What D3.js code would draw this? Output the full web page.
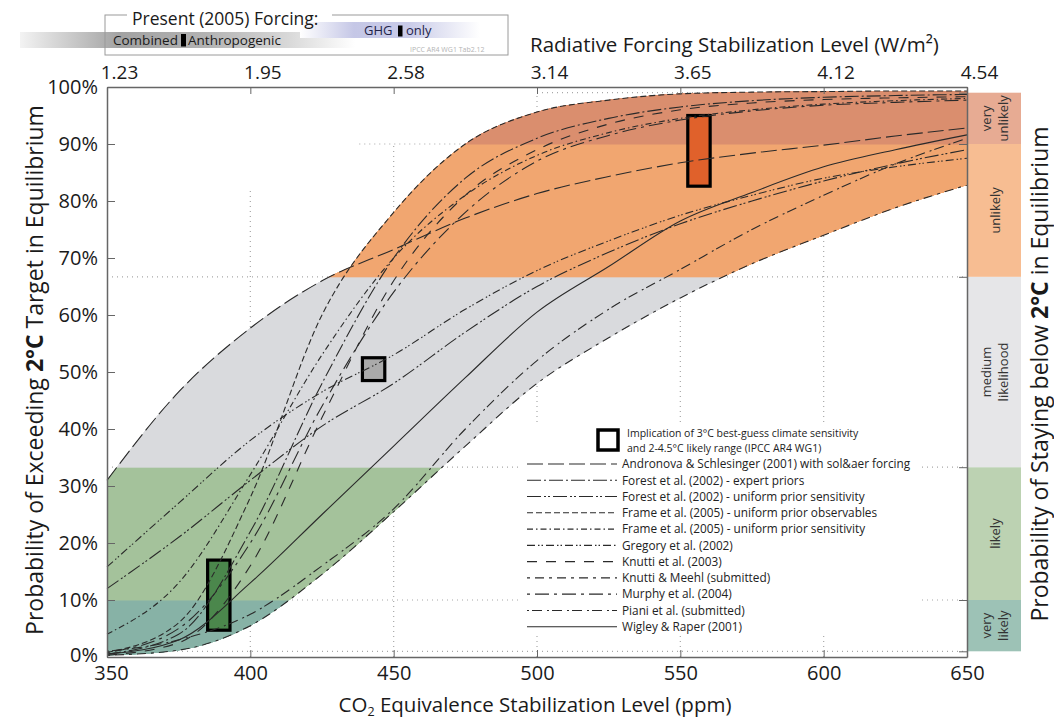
<!DOCTYPE html>
<html>
<head>
<meta charset="utf-8">
<script src="https://cdn.jsdelivr.net/npm/d3@7"></script>
<style>
  body { margin: 0; background: #fff; }
  svg text { font-family: "Open Sans", sans-serif; }
</style>
</head>
<body>
<div id="chart"></div>
<script>
const ppmGrid = [350, 375, 400, 425, 450, 475, 500, 525, 550, 575, 600, 625, 650];

// probability (%) of exceeding 2°C in equilibrium, one array per study
const andronova     = [31, 46.5, 57.7, 66, 71.5, 77, 81.3, 84.3, 86.7, 88.4, 89.8, 91.4, 92.8];
const forestExpert  = [0.5, 4, 22, 48, 70, 84, 91, 94.5, 96.5, 97.6, 98.2, 98.5, 98.7];
const forestUniform = [12, 21, 31, 40.5, 48, 57, 65, 71, 76, 80, 83.5, 86.5, 89];
const frameObs      = [0.8, 6, 28, 60, 78, 90, 95.6, 97.7, 98.8, 99.1, 99.2, 99.3, 99.3];
const frameSens     = [4, 13, 32, 53, 70, 81, 88, 92, 94.5, 96, 97, 97.6, 98];
const gregory       = [15.8, 27, 38, 46.5, 53, 61, 67.8, 73, 77.5, 81, 84, 86, 87.5];
const knutti03      = [0.3, 2.5, 16, 42, 66, 81, 89, 93.5, 96, 97.2, 97.8, 98.1, 98.3];
const knuttiMeehl   = [0.3, 1.2, 5.5, 14.5, 25.5, 37, 48, 56, 63, 69, 74, 78.8, 82.8];
const murphy        = [0.8, 5, 20, 44, 64, 78, 87, 91.5, 94.2, 95.8, 96.8, 97.3, 97.7];
const piani         = [1, 3, 7.5, 16, 26, 40, 52, 61, 68, 75, 81, 86.5, 91];
const wigley        = [0.5, 3, 13, 25, 37, 49, 60.5, 68.5, 76.5, 81.5, 86, 89, 91.6];

const studyNames = [
    'Andronova & Schlesinger (2001) with sol&aer forcing',
    'Forest et al. (2002) - expert priors',
    'Forest et al. (2002) - uniform prior sensitivity',
    'Frame et al. (2005) - uniform prior observables',
    'Frame et al. (2005) - uniform prior sensitivity',
    'Gregory et al. (2002)',
    'Knutti et al. (2003)',
    'Knutti & Meehl (submitted)',
    'Murphy et al. (2004)',
    'Piani et al. (submitted)',
    'Wigley & Raper (2001)'
];

// 3°C best guess with 2-4.5°C range
const boxPpm  = [389, 443, 556.5];
const boxLow  = [4.7, 48.5, 82.6];
const boxHigh = [17, 52.5, 95];

const ppmTicks = [350, 400, 450, 500, 550, 600, 650];
const forcingLabels = ['1.23', '1.95', '2.58', '3.14', '3.65', '4.12', '4.54'];
const pctTicks = [0, 10, 20, 30, 40, 50, 60, 70, 80, 90, 100];
const bandEdges = [0, 10, 33.3, 66.7, 90, 100];
const bandLabels = [['very', 'likely'], ['likely'], ['medium', 'likelihood'], ['unlikely'], ['very', 'unlikely']];

let width = 1054, height = 719;

let curves = [andronova, forestExpert, forestUniform, frameObs, frameSens, gregory,
    knutti03, knuttiMeehl, murphy, piani, wigley];
let dashes = ['16,5', '14,3,2,3', '14,3,2,2,2,3', '6,3', '6,3,1.5,3', '8,3,1.5,2,1.5,3',
    '10,9', '3,5,9,5', '3,5,14,5', '2,3,10,5', null];
let bandColors = ['#87b2a6', '#a4c29b', '#d9dadd', '#f1a670', '#da8e6e'];
let stripColors = ['#9dc2b6', '#bcd2b2', '#e6e6e8', '#f7bd92', '#e7ab93'];
let boxColors = ['#4b874c', '#aaaaaa', '#e0612b'];

let x = d3.scaleLinear().domain([350, 650]).range([107, 967]);
let y = d3.scaleLinear().domain([0, 100]).range([657, 87]);

let svg = d3.select('#chart')
    .append('svg')
    .attr('width', width)
    .attr('height', height);

let defs = svg.append('defs');

// envelope of all curves = union of the areas between every pair of curves
let envClip = defs.append('clipPath').attr('id', 'env');
let pairArea = (a, b) => d3.area()
    .x((d, i) => x(ppmGrid[i]))
    .y0((d, i) => y(a[i]))
    .y1((d, i) => y(b[i]))
    .curve(d3.curveMonotoneX)(ppmGrid);

for (let i = 0; i < curves.length; i++) {
    for (let j = i + 1; j < curves.length; j++) {
        envClip.append('path').attr('d', pairArea(curves[i], curves[j]));
    }
}

// dotted grid segments (only partly visible in the original)
let grid = svg.append('g')
    .attr('stroke', '#a8a8a8')
    .attr('stroke-width', 1.2)
    .attr('stroke-dasharray', '1,4');
[[400, 0, 82], [450, 0, 90], [500, 0, 99], [550, 0, 99], [600, 0, 99]].forEach(s => {
    grid.append('line').attr('x1', x(s[0])).attr('x2', x(s[0])).attr('y1', y(s[1])).attr('y2', y(s[2]));
});
[[1, 350], [10, 350], [33.3, 350], [66.7, 350], [90, 438], [99, 500]].forEach(s => {
    grid.append('line').attr('x1', x(s[1])).attr('x2', x(650)).attr('y1', y(s[0])).attr('y2', y(s[0]));
});

// likelihood bands inside the envelope
svg.append('g')
    .attr('clip-path', 'url(#env)')
    .selectAll('rect')
    .data(d3.range(bandEdges.length - 1))
    .join('rect')
    .attr('x', x(350))
    .attr('width', x(650) - x(350))
    .attr('y', k => y(bandEdges[k + 1]) - 0.5)
    .attr('height', k => y(bandEdges[k]) - y(bandEdges[k + 1]) + 1)
    .attr('fill', k => bandColors[k]);

// strip on the right
let strip = svg.append('g');
strip.selectAll('rect')
    .data(d3.range(bandEdges.length - 1))
    .join('rect')
    .attr('x', 967)
    .attr('width', 54)
    .attr('y', k => y(Math.min(bandEdges[k + 1], 99)))
    .attr('height', k => y(Math.max(bandEdges[k], 1)) - y(Math.min(bandEdges[k + 1], 99)))
    .attr('fill', k => stripColors[k]);

strip.selectAll('text')
    .data(d3.range(bandEdges.length - 1))
    .join('text')
    .attr('transform', k => {
        let cy = (y(Math.min(bandEdges[k + 1], 99)) + y(Math.max(bandEdges[k], 1))) / 2;
        return `translate(995,${cy}) rotate(-90)`;
    })
    .attr('text-anchor', 'middle')
    .attr('font-size', 13)
    .attr('fill', '#333')
    .each(function(k) {
        let lines = bandLabels[k];
        d3.select(this).selectAll('tspan')
            .data(lines)
            .join('tspan')
            .attr('x', 0)
            .attr('y', (d, i) => (i - (lines.length - 1) / 2) * 17 + 4.5)
            .text(d => d);
    });

// best guess boxes
svg.append('g')
    .selectAll('rect')
    .data(boxPpm)
    .join('rect')
    .attr('x', (d, i) => x(d - 3.9))
    .attr('width', x(357.8) - x(350))
    .attr('y', (d, i) => y(boxHigh[i]))
    .attr('height', (d, i) => y(boxLow[i]) - y(boxHigh[i]))
    .attr('fill', (d, i) => boxColors[i])
    .attr('stroke', 'black')
    .attr('stroke-width', 3.2);

// study curves
let line = d3.line()
    .x((d, i) => x(ppmGrid[i]))
    .y(d => y(d))
    .curve(d3.curveMonotoneX);

svg.append('g')
    .attr('id', 'curvesG')
    .selectAll('path')
    .data(curves)
    .join('path')
    .attr('d', line)
    .attr('fill', 'none')
    .attr('stroke', '#2a2a2a')
    .attr('stroke-width', 1.1)
    .attr('stroke-dasharray', (d, i) => dashes[i]);

// axes
let fontAxis = g => g
    .attr('font-family', '"Open Sans", sans-serif')
    .attr('font-size', 20)
    .attr('color', '#666')
    .call(g => g.selectAll('.tick text').attr('fill', '#1a1a1a'))
    .call(g => g.select('.domain').attr('stroke-width', 1.5));

svg.append('g')
    .attr('transform', `translate(${x(350)},0)`)
    .call(d3.axisLeft(y).tickValues(pctTicks).tickSize(-8).tickSizeOuter(0).tickPadding(9).tickFormat(d => d + '%'))
    .call(fontAxis)
    .call(g => g.selectAll('.tick text').filter(d => d === 0).attr('dy', '0.2em'));

svg.append('g')
    .attr('transform', `translate(0,${y(0)})`)
    .call(d3.axisBottom(x).tickValues(ppmTicks).tickSize(-7).tickSizeOuter(0).tickPadding(9))
    .call(fontAxis)
    .call(g => g.selectAll('.tick text').filter(d => d === 350).attr('dx', 4));

svg.append('g')
    .attr('transform', `translate(0,${y(100)})`)
    .call(d3.axisTop(x).tickValues(ppmTicks).tickSize(-7).tickSizeOuter(0).tickPadding(8)
        .tickFormat((d, i) => forcingLabels[i]))
    .call(fontAxis)
    .call(g => g.attr('font-size', 19))
    .call(g => g.selectAll('.tick text').attr('dx', 12));

svg.append('g')
    .attr('transform', `translate(${x(650)},0)`)
    .call(d3.axisRight(y).tickValues([1, 10, 33.3, 66.7, 90, 99]).tickSize(-8).tickSizeOuter(0).tickFormat(''))
    .call(fontAxis);

// axis titles
let leftTitle = svg.append('text')
    .attr('transform', 'translate(35,370) rotate(-90)')
    .attr('text-anchor', 'middle')
    .attr('dy', '0.35em')
    .attr('font-size', 23)
    .attr('fill', '#1a1a1a');
leftTitle.append('tspan').text('Probability of Exceeding ');
leftTitle.append('tspan').attr('font-weight', 'bold').text('2°C');
leftTitle.append('tspan').text(' Target in Equilibrium');

let rightTitle = svg.append('text')
    .attr('transform', 'translate(1040,374) rotate(-90)')
    .attr('text-anchor', 'middle')
    .attr('dy', '0.35em')
    .attr('font-size', 23)
    .attr('fill', '#1a1a1a');
rightTitle.append('tspan').text('Probability of Staying below ');
rightTitle.append('tspan').attr('font-weight', 'bold').text('2°C');
rightTitle.append('tspan').text(' in Equilibrium');

let bottomTitle = svg.append('text')
    .attr('x', 535)
    .attr('y', 712)
    .attr('text-anchor', 'middle')
    .attr('font-size', 20.5)
    .attr('fill', '#1a1a1a');
bottomTitle.append('tspan').text('CO');
bottomTitle.append('tspan').attr('font-size', 12.5).attr('dy', 4).text('2');
bottomTitle.append('tspan').attr('dy', -4).text(' Equivalence Stabilization Level (ppm)');

svg.append('text')
    .attr('x', 530)
    .attr('y', 52)
    .attr('font-size', 20.5)
    .attr('fill', '#1a1a1a')
    .text('Radiative Forcing Stabilization Level (W/m²)');

// legend
let legend = svg.append('g');
legend.append('rect')
    .attr('x', 522).attr('y', 423).attr('width', 400).attr('height', 213)
    .attr('fill', 'white');
legend.append('rect')
    .attr('x', 598).attr('y', 430).attr('width', 20).attr('height', 20)
    .attr('fill', 'white').attr('stroke', 'black').attr('stroke-width', 3.5);
legend.append('text').attr('x', 627).attr('y', 437).attr('font-size', 10.5).attr('fill', '#222')
    .text('Implication of 3°C best-guess climate sensitivity');
legend.append('text').attr('x', 627).attr('y', 451.5).attr('font-size', 10.5).attr('fill', '#222')
    .text('and 2-4.5°C likely range (IPCC AR4 WG1)');

let rows = legend.selectAll('g.row')
    .data(studyNames)
    .join('g')
    .attr('class', 'row')
    .attr('transform', (d, i) => `translate(0,${464 + i * 16.27})`);
rows.append('line')
    .attr('x1', 527).attr('x2', 617)
    .attr('stroke', '#2a2a2a')
    .attr('stroke-width', 1.1)
    .attr('stroke-dasharray', (d, i) => dashes[i]);
rows.append('text')
    .attr('x', 622)
    .attr('dy', '0.36em')
    .attr('font-size', 11.8)
    .attr('fill', '#222')
    .text(d => d);

// present (2005) forcing box, top left
let gradComb = defs.append('linearGradient').attr('id', 'gradComb');
[[0, '#f3f3f3'], [0.3, '#a2a2a2'], [0.55, '#b2b2b2'], [0.8, '#d8d8d8'], [1, '#ffffff']].forEach(s => {
    gradComb.append('stop').attr('offset', s[0]).attr('stop-color', s[1]);
});
let gradGhg = defs.append('linearGradient').attr('id', 'gradGhg');
[[0, '#ffffff'], [0.3, '#c5c7e6'], [0.6, '#c9cbe8'], [1, '#ffffff']].forEach(s => {
    gradGhg.append('stop').attr('offset', s[0]).attr('stop-color', s[1]);
});

let forcing = svg.append('g');
forcing.append('rect').attr('x', 20).attr('y', 32).attr('width', 335).attr('height', 16).attr('fill', 'url(#gradComb)');
forcing.append('rect').attr('x', 300).attr('y', 22).attr('width', 180).attr('height', 16).attr('fill', 'url(#gradGhg)');
forcing.append('rect')
    .attr('x', 105).attr('y', 15).attr('width', 403).attr('height', 40)
    .attr('fill', 'none').attr('stroke', '#9a9a9a').attr('stroke-width', 1);
forcing.append('rect').attr('x', 127).attr('y', 8).attr('width', 205).attr('height', 12).attr('fill', 'white');
forcing.append('text').attr('x', 132).attr('y', 25).attr('font-size', 17.5).attr('fill', '#1a1a1a')
    .text('Present (2005) Forcing:');
forcing.append('text').attr('x', 113).attr('y', 45).attr('font-size', 13.5).attr('fill', '#1a1a1a').text('Combined');
forcing.append('rect').attr('x', 181).attr('y', 34).attr('width', 5).attr('height', 12.5).attr('fill', 'black');
forcing.append('text').attr('x', 188).attr('y', 45).attr('font-size', 13.5).attr('fill', '#1a1a1a').text('Anthropogenic');
forcing.append('text').attr('x', 364).attr('y', 35).attr('font-size', 13).attr('fill', '#22244a').text('GHG');
forcing.append('rect').attr('x', 398).attr('y', 25.5).attr('width', 4.5).attr('height', 11).attr('fill', 'black');
forcing.append('text').attr('x', 406).attr('y', 35).attr('font-size', 13).attr('fill', '#22244a').text('only');
forcing.append('text').attr('x', 410).attr('y', 52).attr('font-size', 7).attr('fill', '#b4b4b4').text('IPCC AR4 WG1 Tab2.12');
</script>
</body>
</html>
